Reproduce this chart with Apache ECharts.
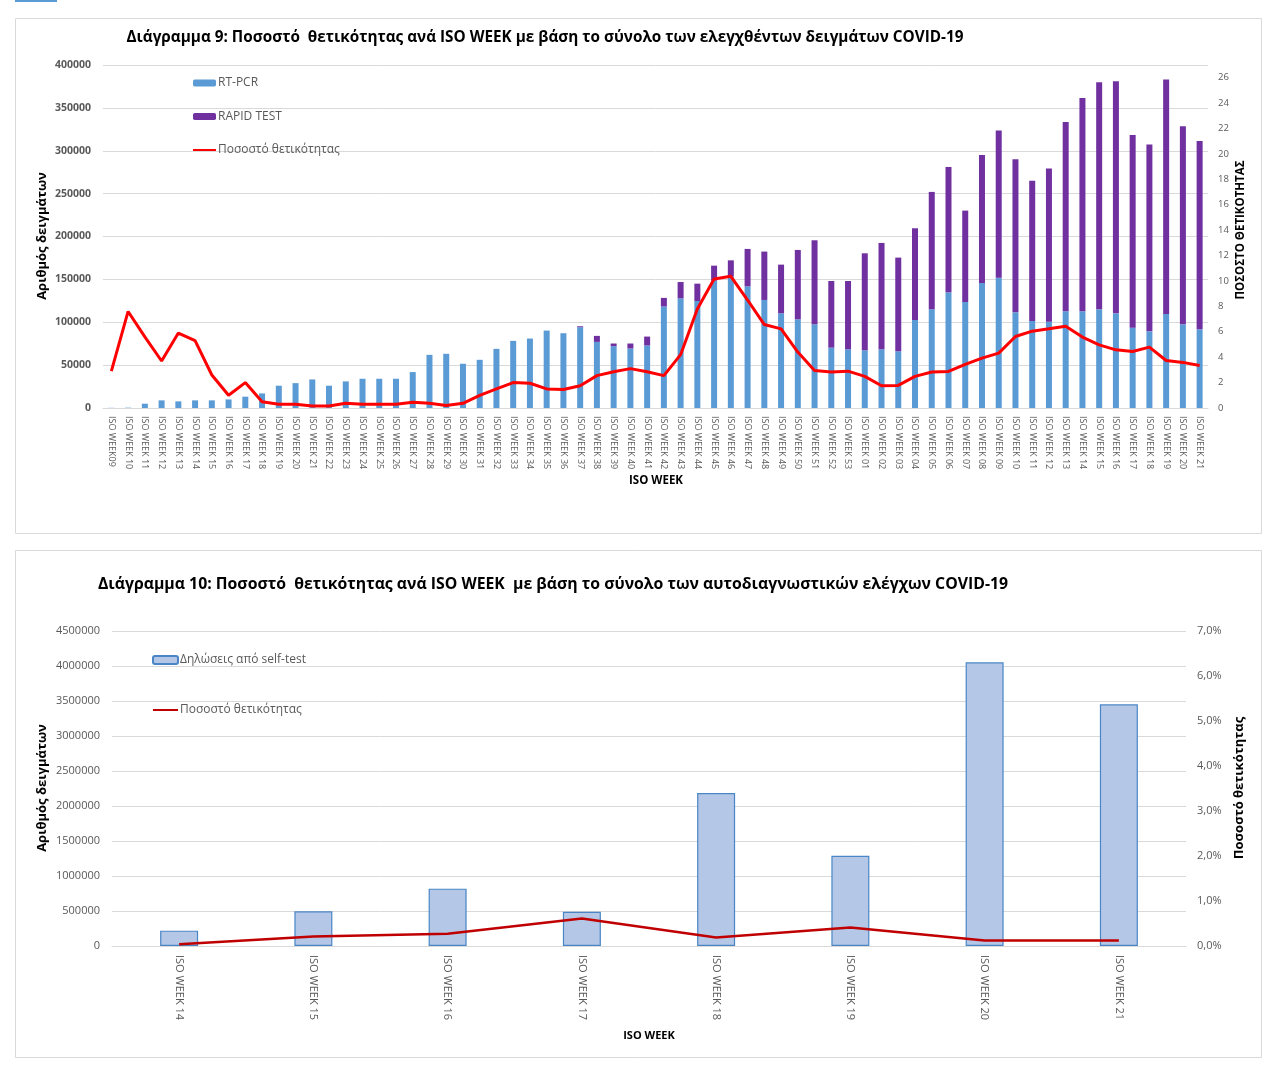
<!DOCTYPE html>
<html>
<head>
<meta charset="utf-8">
<script src="https://cdn.jsdelivr.net/npm/echarts@6/dist/echarts.min.js"></script>
<style>
html,body{margin:0;padding:0;background:#fff;}
#c{width:1276px;height:1068px;}
</style>
</head>
<body>
<div id="c"></div>
<script>
// ---- Chart 9 data ----
var weeks9 = ['ISO WEEK09','ISO WEEK 10','ISO WEEK 11','ISO WEEK 12','ISO WEEK 13','ISO WEEK 14','ISO WEEK 15','ISO WEEK 16','ISO WEEK 17','ISO WEEK 18',
  'ISO WEEK 19','ISO WEEK 20','ISO WEEK 21','ISO WEEK 22','ISO WEEK 23','ISO WEEK 24','ISO WEEK 25','ISO WEEK 26','ISO WEEK 27','ISO WEEK 28',
  'ISO WEEK 29','ISO WEEK 30','ISO WEEK 31','ISO WEEK 32','ISO WEEK 33','ISO WEEK 34','ISO WEEK 35','ISO WEEK 36','ISO WEEK 37','ISO WEEK 38',
  'ISO WEEK 39','ISO WEEK 40','ISO WEEK 41','ISO WEEK 42','ISO WEEK 43','ISO WEEK 44','ISO WEEK 45','ISO WEEK 46','ISO WEEK 47','ISO WEEK 48',
  'ISO WEEK 49','ISO WEEK 50','ISO WEEK 51','ISO WEEK 52','ISO WEEK 53','ISO WEEK 01','ISO WEEK 02','ISO WEEK 03','ISO WEEK 04','ISO WEEK 05',
  'ISO WEEK 06','ISO WEEK 07','ISO WEEK 08','ISO WEEK 09','ISO WEEK 10','ISO WEEK 11','ISO WEEK 12','ISO WEEK 13','ISO WEEK 14','ISO WEEK 15',
  'ISO WEEK 16','ISO WEEK 17','ISO WEEK 18','ISO WEEK 19','ISO WEEK 20','ISO WEEK 21'];
var rtpcr = [200,400,5000,8900,7750,8900,8900,10000,13200,17000,
  26000,29000,33300,26000,31000,34100,34100,34100,41900,62000,
  63200,51600,56200,69000,78300,81000,90300,87200,94200,77100,
  72100,69400,72900,118400,127900,124800,148500,153600,141900,126000,
  110400,103400,97600,70400,68400,67300,68400,66100,102600,115100,
  134900,123600,145800,152000,111600,101500,100700,112800,112800,115100,
  110400,93700,89400,109600,97600,91800];
var rapid = [0,0,0,0,0,0,0,0,0,0,
  0,0,0,0,0,0,0,0,0,0,
  0,0,0,0,0,0,0,0,1100,7000,
  3100,5800,10400,10000,19000,20200,17500,18600,43600,56400,
  56800,80900,98000,77700,79700,113100,124100,109300,107000,136900,
  146200,106600,149300,171500,178400,163600,178500,220800,248800,264800,
  270600,224700,217800,273400,230900,219600];
var positivity9 = [2.9,7.6,5.6,3.7,5.9,5.3,2.6,1.0,2.0,0.5,
  0.3,0.3,0.15,0.15,0.37,0.3,0.3,0.3,0.45,0.37,
  0.2,0.37,1.0,1.5,2.0,1.95,1.5,1.45,1.75,2.55,
  2.85,3.1,2.85,2.55,4.2,7.8,10.16,10.37,8.5,6.57,
  6.23,4.4,2.96,2.83,2.9,2.49,1.75,1.78,2.49,2.83,
  2.88,3.43,3.93,4.32,5.63,6.05,6.23,6.44,5.58,4.97,
  4.58,4.45,4.79,3.74,3.59,3.35];

// ---- Chart 10 data ----
var weeks10 = ['ISO WEEK 14','ISO WEEK 15','ISO WEEK 16','ISO WEEK 17','ISO WEEK 18','ISO WEEK 19','ISO WEEK 20','ISO WEEK 21'];
var selfTests = [219000,495000,819000,490000,2186000,1290000,4052000,3452000];
var positivity10 = [0.04,0.21,0.27,0.61,0.19,0.41,0.12,0.12];

var FONT = '"Open Sans", "Noto Sans", sans-serif';
var GRAY = '#595959';
var GRID = '#D9D9D9';

var chart = echarts.init(document.getElementById('c'), null, {renderer:'canvas'});

function txt(x, y, text, size, weight, rot, align) {
  return {type:'text', x:x, y:y, rotation:rot||0, z:50,
    style:{text:text, font:(weight||'bold')+' '+size+'px '+FONT, fill:'#000',
      textAlign:align||'center', textVerticalAlign:'middle'}};
}

var option = {
  animation:false,
  textStyle:{fontFamily:FONT},
  graphic:[
    {type:'rect', shape:{x:15.5,y:18.5,width:1246,height:515}, style:{fill:'none',stroke:GRID,lineWidth:1}, z:-1},
    {type:'rect', shape:{x:15.5,y:550.5,width:1246,height:507}, style:{fill:'none',stroke:GRID,lineWidth:1}, z:-1},
    {type:'rect', shape:{x:15,y:0,width:42,height:2}, style:{fill:'#5B9BD5'}, z:-1},
    txt(545, 38, 'Διάγραμμα 9: Ποσοστό  θετικότητας ανά ISO WEEK με βάση το σύνολο των ελεγχθέντων δειγμάτων COVID-19', 15.3),
    txt(42, 236, 'Αριθμός δειγμάτων', 13, 'bold', Math.PI/2),
    txt(1241, 230, 'ΠΟΣΟΣΤΟ ΘΕΤΙΚΟΤΗΤΑΣ', 11.5, 'bold', Math.PI/2),
    txt(656, 481, 'ISO WEEK', 11.5),
    txt(553, 584, 'Διάγραμμα 10: Ποσοστό  θετικότητας ανά ISO WEEK  με βάση το σύνολο των αυτοδιαγνωστικών ελέγχων COVID-19', 15.8),
    txt(42, 788, 'Αριθμός δειγμάτων', 13, 'bold', Math.PI/2),
    txt(1239, 788, 'Ποσοστό θετικότητας', 13, 'bold', Math.PI/2),
    txt(649, 1036, 'ISO WEEK', 11)
  ],
  legend:[
    {orient:'vertical', left:192, top:77, padding:0, itemGap:21.5, itemWidth:23, itemHeight:7,
      textStyle:{fontSize:12, color:GRAY, fontFamily:FONT, padding:[0,0,0,-3]},
      data:['RT-PCR','RAPID TEST',{name:'Ποσοστό θετικότητας', itemStyle:{opacity:0}}]},
    {orient:'vertical', left:152, top:654, padding:0, itemGap:38, itemWidth:25, itemHeight:8,
      textStyle:{fontSize:12, color:GRAY, fontFamily:FONT, padding:[0,0,0,-3]},
      data:['Δηλώσεις από self-test',{name:'Ποσοστό θετικότητας ', itemStyle:{opacity:0}}]}
  ],
  grid:[
    {left:103, right:68, top:65, height:343, containLabel:false},
    {left:112, right:90, top:631, height:315, containLabel:false}
  ],
  xAxis:[
    {type:'category', gridIndex:0, data:weeks9,
      axisLine:{lineStyle:{color:GRID}}, axisTick:{show:false},
      axisLabel:{interval:0, rotate:-90, fontSize:9, color:GRAY, margin:8, fontFamily:FONT}},
    {type:'category', gridIndex:1, data:weeks10,
      axisLine:{lineStyle:{color:GRID}}, axisTick:{show:false},
      axisLabel:{interval:0, rotate:-90, fontSize:11, color:GRAY, margin:9, fontFamily:FONT}}
  ],
  yAxis:[
    {type:'value', gridIndex:0, min:0, max:400000, interval:50000,
      axisLine:{show:false}, axisTick:{show:false},
      splitLine:{lineStyle:{color:GRID}},
      axisLabel:{fontSize:10.5, color:GRAY, fontWeight:'bold', margin:12, fontFamily:FONT,
        formatter:function(v){return String(v);}}},
    {type:'value', gridIndex:0, position:'right', min:0, max:27, interval:2,
      axisLine:{show:false}, axisTick:{show:false}, splitLine:{show:false},
      axisLabel:{fontSize:9.5, color:GRAY, margin:10, fontFamily:FONT,
        formatter:function(v){return v > 26 ? '' : String(v);}}},
    {type:'value', gridIndex:1, min:0, max:4500000, interval:500000,
      axisLine:{show:false}, axisTick:{show:false},
      splitLine:{lineStyle:{color:GRID}},
      axisLabel:{fontSize:11, color:GRAY, margin:12, fontFamily:FONT,
        formatter:function(v){return String(v);}}},
    {type:'value', gridIndex:1, position:'right', min:0, max:7, interval:1,
      axisLine:{show:false}, axisTick:{show:false}, splitLine:{show:false},
      axisLabel:{fontSize:11, color:GRAY, margin:11, fontFamily:FONT,
        formatter:function(v){return v.toFixed(1).replace('.',',')+'%';}}}
  ],
  series:[
    {name:'RT-PCR', type:'bar', xAxisIndex:0, yAxisIndex:0, stack:'s9', data:rtpcr, barWidth:6,
      itemStyle:{color:'#5B9BD5'}},
    {name:'RAPID TEST', type:'bar', xAxisIndex:0, yAxisIndex:0, stack:'s9', data:rapid, barWidth:6,
      itemStyle:{color:'#7030A0'}},
    {name:'Ποσοστό θετικότητας', type:'line', xAxisIndex:0, yAxisIndex:1, data:positivity9,
      symbol:'none', lineStyle:{color:'#FF0000', width:3}, itemStyle:{color:'#FF0000'}, z:5},
    {name:'Δηλώσεις από self-test', type:'bar', xAxisIndex:1, yAxisIndex:2, data:selfTests, barWidth:38,
      itemStyle:{color:'#B4C7E7', borderColor:'#4A86C5', borderWidth:1.2}},
    {name:'Ποσοστό θετικότητας ', type:'line', xAxisIndex:1, yAxisIndex:3, data:positivity10,
      symbol:'none', lineStyle:{color:'#C00000', width:2.5}, itemStyle:{color:'#C00000'}, z:5}
  ]
};
chart.setOption(option);
</script>
</body>
</html>
